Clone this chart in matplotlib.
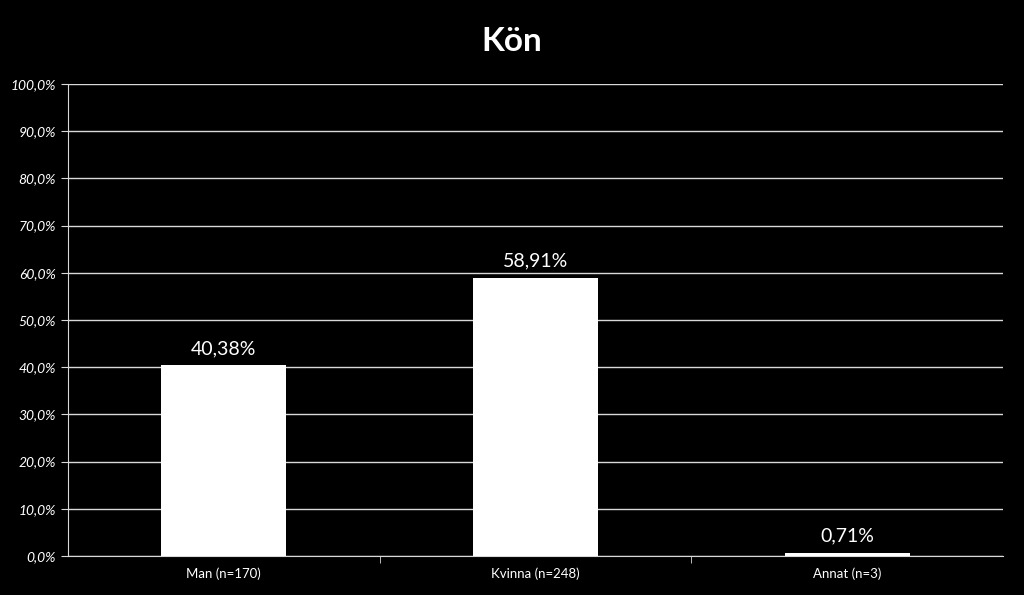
import matplotlib.pyplot as plt
from matplotlib.ticker import FuncFormatter

categories = ['Man (n=170)', 'Kvinna (n=248)', 'Annat (n=3)']
values = [40.38, 58.91, 0.71]
value_labels = ['40,38%', '58,91%', '0,71%']

plt.rcParams['font.family'] = ['Lato', 'DejaVu Sans']

fig = plt.figure(figsize=(10.24, 5.95), dpi=100, facecolor='black')
ax = fig.add_axes([0.0664, 0.0655, 0.9131, 0.7933], facecolor='black')

x = range(len(categories))
ax.bar(x, values, width=0.4, color='white', zorder=3)

# value labels above bars
for xi, v, lab in zip(x, values, value_labels):
    ax.text(xi, v + 1.8, lab, ha='center', va='bottom', color='white', fontsize=14)

ax.set_xlim(-0.5, 2.5)
ax.set_ylim(0, 100)
ax.set_yticks(range(0, 101, 10))
ax.yaxis.set_major_formatter(FuncFormatter(lambda v, p: f'{v:.1f}%'.replace('.', ',')))
ax.grid(axis='y', color='#d9d9d9', linewidth=1, zorder=0)

ax.set_xticks(list(x))
ax.set_xticklabels(categories)
ax.set_xticks([0.5, 1.5], minor=True)
ax.tick_params(axis='x', which='major', length=0, pad=8, colors='white', labelsize=9.5)
ax.tick_params(axis='x', which='minor', length=5, color='#d9d9d9', direction='out')
ax.tick_params(axis='y', length=5, color='#d9d9d9', colors='white', labelsize=10)
for lab in ax.get_yticklabels():
    lab.set_fontstyle('italic')

for side in ['top', 'right']:
    ax.spines[side].set_visible(False)
for side in ['left', 'bottom']:
    ax.spines[side].set_color('#d9d9d9')

fig.suptitle('Kön', color='white', fontsize=24, fontweight='bold', y=0.955)

fig.savefig('out.png', dpi=100, facecolor='black')
